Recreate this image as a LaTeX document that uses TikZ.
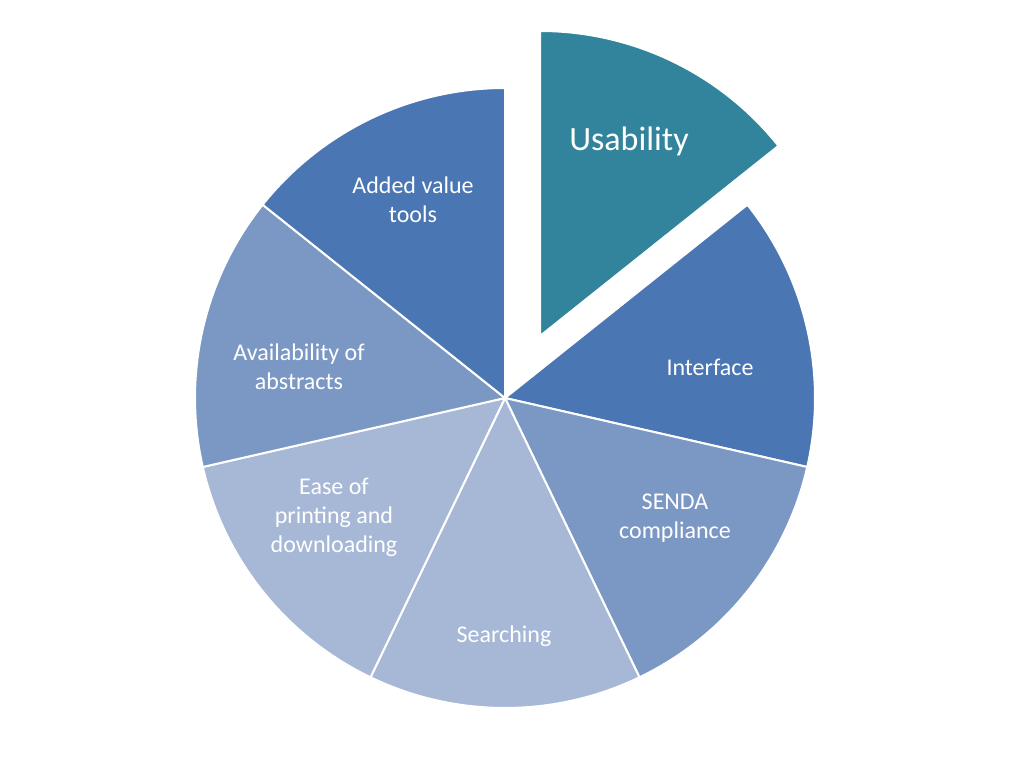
\documentclass[tikz,border=0pt]{standalone}
\usepackage{fontspec}
\setmainfont{Carlito}
\definecolor{teal1}{HTML}{31849B}
\definecolor{blue1}{HTML}{4A76B4}
\definecolor{blue2}{HTML}{7B98C4}
\definecolor{blue3}{HTML}{A7B8D6}
\begin{document}
\begin{tikzpicture}[x=1pt, y=1pt,
    slice/.style={draw=white, line width=2pt, line join=round},
    lbl/.style={text=white, align=center, font=\fontsize{24}{29}\selectfont}]
\useasboundingbox (0,0) rectangle (1024,768);

% Slices
\foreach \a/\col in {38.57/blue1, -12.86/blue2, -64.29/blue3, -115.71/blue3, -167.14/blue2, -218.57/blue1}
  \fill[slice, fill=\col] (505,370) -- ++(\a:310) arc[start angle=\a, delta angle=-51.43, radius=310] -- cycle;
\fill[slice, fill=teal1] (540,432) -- ++(90:305) arc[start angle=90, delta angle=-51.43, radius=305] -- cycle;

% Labels
\node[lbl, font=\fontsize{34}{40}\selectfont] (usab) at (629,627) {Usability};
\node[lbl] (iface) at (710,401) {Interface};
\node[lbl] (senda) at (675,250) {SENDA\\compliance};
\node[lbl] (search) at (504,132) {Searching};
\node[lbl] (ease) at (334,251) {Ease of\\printing and\\downloading};
\node[lbl] (avail) at (299,401) {Availability of\\abstracts};
\node[lbl] (added) at (413,568) {Added value\\tools};
\end{tikzpicture}
\end{document}
